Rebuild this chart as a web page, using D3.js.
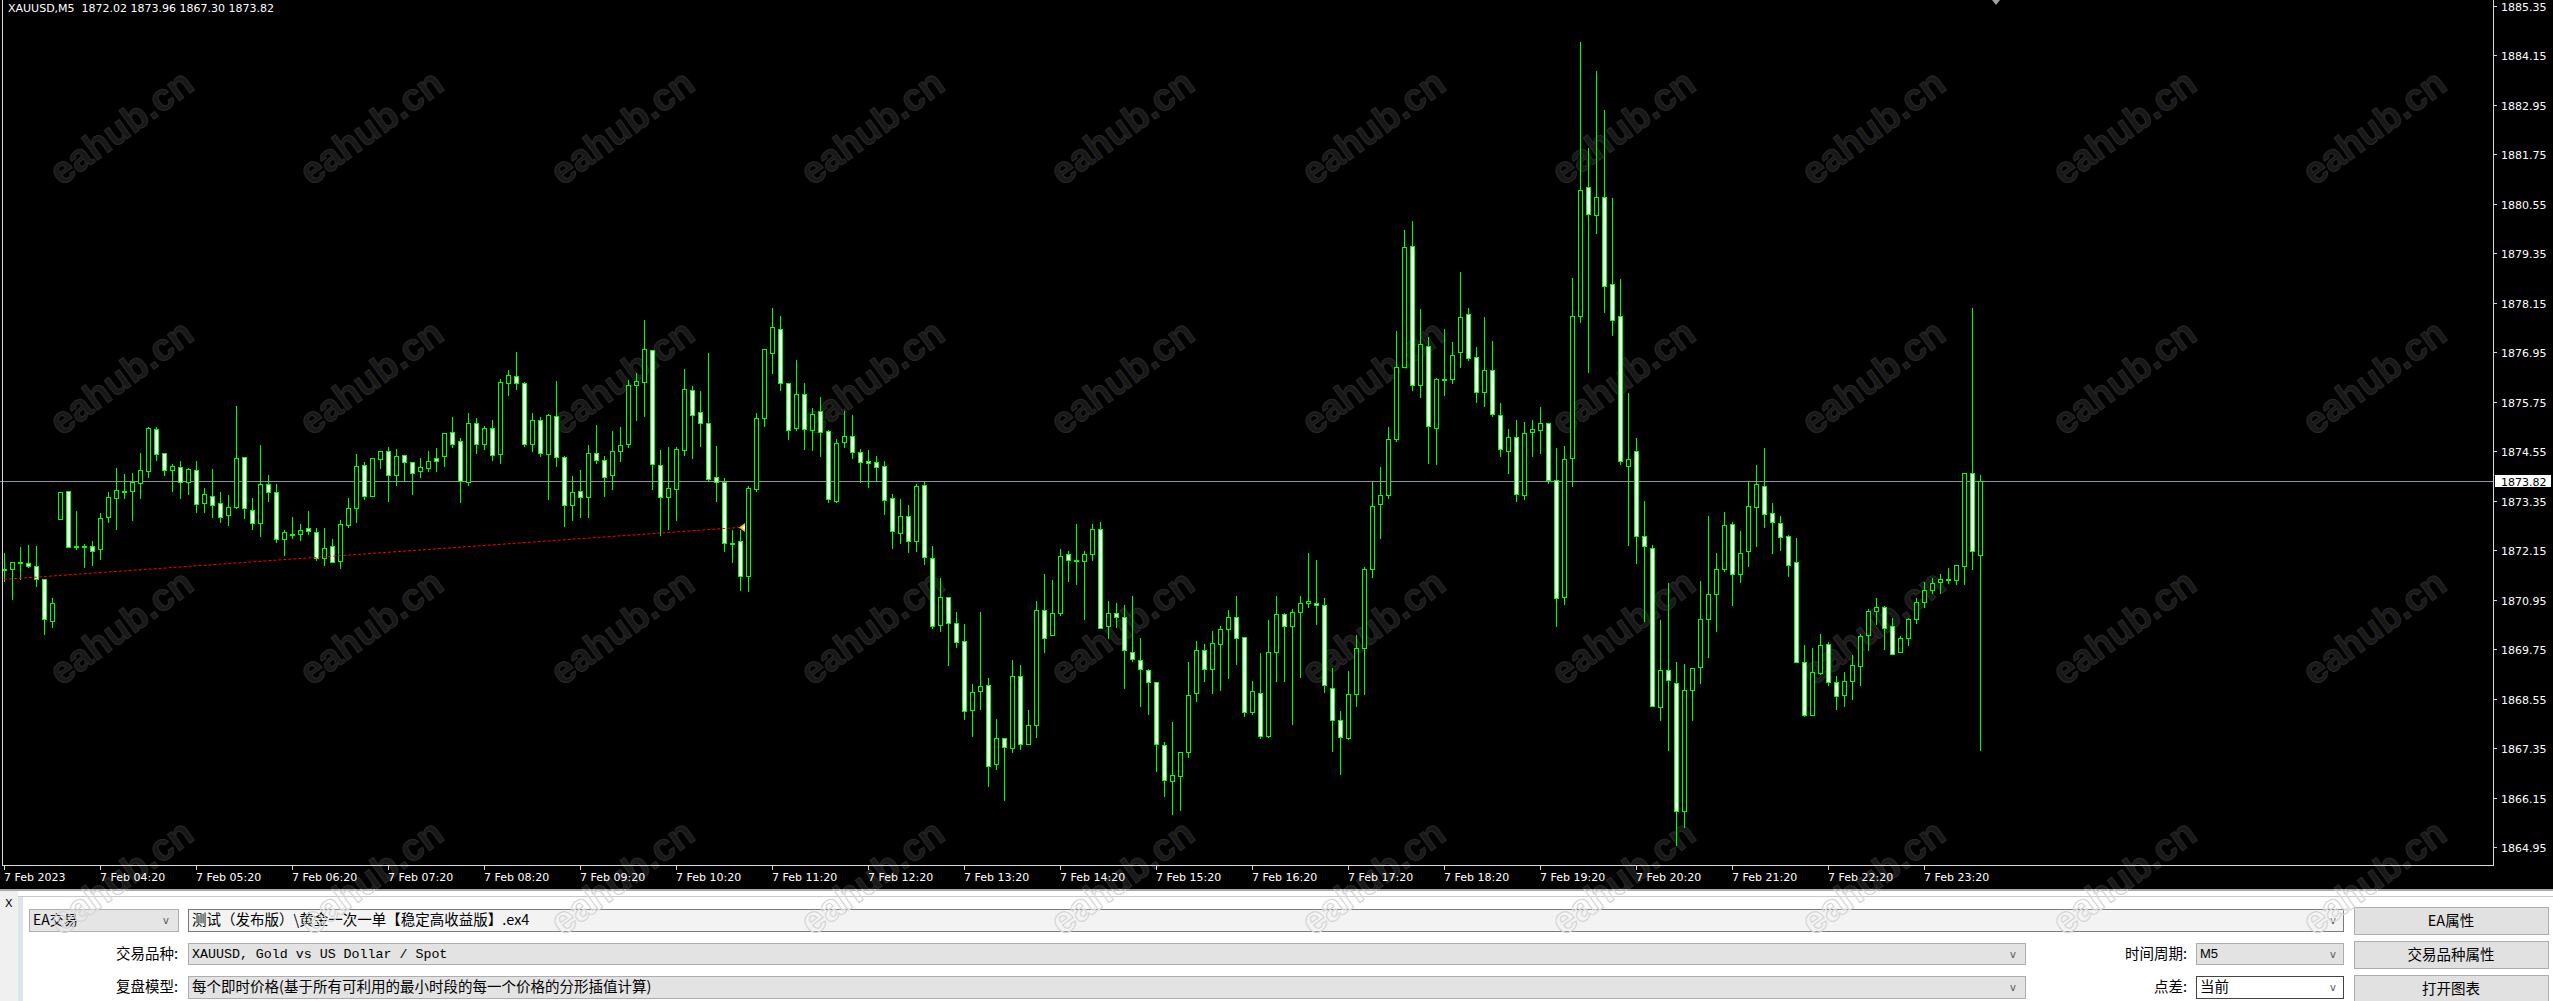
<!DOCTYPE html>
<html><head><meta charset="utf-8">
<script src="https://cdn.jsdelivr.net/npm/d3@7/dist/d3.min.js"></script>
<style>
html,body{margin:0;padding:0;overflow:hidden;background:#fff}
svg{display:block}
</style></head>
<body>
<svg id="chart" width="2553" height="1001"></svg>
<script>
const symbolTitle = "XAUUSD,M5";
const opens = [
1871.68,1871.69,1871.86,1871.83,1871.76,1871.44,1870.42,1872.90,1873.58,1872.24,
1872.24,1872.26,1872.17,1872.95,1873.42,1873.58,1873.58,1873.77,1874.06,1875.08,
1874.50,1874.08,1874.17,1873.79,1874.08,1873.29,1873.47,1873.28,1872.99,1873.20,
1874.40,1873.12,1872.80,1873.75,1873.56,1872.43,1872.55,1872.54,1872.68,1872.60,
1871.96,1872.26,1871.88,1872.76,1873.16,1874.21,1873.45,1874.35,1874.55,1873.98,
1874.45,1874.28,1874.06,1874.15,1874.39,1874.42,1875.01,1874.79,1873.81,1875.23,
1874.71,1875.11,1874.49,1876.21,1876.37,1876.20,1874.72,1875.30,1874.49,1875.40,
1874.40,1873.25,1873.58,1873.43,1874.51,1874.33,1873.96,1874.55,1874.71,1876.15,
1876.22,1877.00,1874.21,1873.43,1873.64,1874.57,1876.03,1875.49,1875.23,1873.92,
1873.81,1872.33,1872.36,1871.52,1873.62,1875.35,1876.92,1877.50,1876.19,1875.10,
1875.93,1875.05,1875.51,1875.03,1873.35,1874.76,1874.91,1874.52,1874.30,1874.28,
1874.18,1873.41,1872.57,1872.97,1872.36,1873.74,1871.95,1870.33,1871.01,1870.38,
1869.94,1868.27,1868.73,1868.87,1866.96,1867.59,1867.35,1869.09,1867.44,1867.90,
1870.70,1870.09,1870.62,1872.05,1871.90,1871.88,1872.05,1872.66,1870.31,1870.62,
1870.53,1869.68,1869.48,1869.24,1868.95,1867.42,1866.55,1866.67,1867.25,1868.68,
1869.73,1869.27,1869.87,1870.24,1870.53,1870.04,1868.22,1868.68,1867.64,1869.68,
1870.60,1870.31,1870.64,1870.87,1870.87,1870.81,1868.80,1868.02,1867.59,1868.65,
1869.77,1871.69,1873.26,1873.48,1874.84,1876.60,1879.52,1876.16,1877.09,1875.11,
1876.30,1876.31,1876.95,1877.87,1876.83,1875.98,1876.51,1875.42,1874.56,1874.88,
1873.48,1875.01,1875.07,1875.23,1873.84,1871.01,1874.39,1877.82,1880.96,1880.27,
1880.71,1878.61,1877.82,1874.20,1874.55,1872.48,1872.21,1868.34,1869.24,1868.92,
1865.82,1868.77,1869.31,1870.47,1871.08,1871.69,1872.78,1871.56,1872.12,1873.19,
1873.70,1873.05,1872.80,1872.48,1871.86,1869.43,1868.15,1869.16,1869.87,1868.95,
1868.63,1868.97,1869.33,1870.09,1870.67,1870.77,1870.31,1869.69,1870.01,1870.48,
1870.89,1871.18,1871.37,1871.44,1871.42,1871.77,1874.01,1872.02];
const highs = [
1872.07,1871.87,1872.23,1872.28,1872.25,1871.44,1870.98,1873.55,1873.58,1873.10,
1872.29,1872.37,1873.04,1873.56,1874.13,1874.00,1874.02,1874.50,1875.14,1875.14,
1874.50,1874.23,1874.31,1874.14,1874.31,1873.66,1874.12,1873.56,1873.49,1875.64,
1874.40,1873.41,1874.70,1873.98,1873.75,1872.64,1872.95,1872.78,1873.10,1872.68,
1872.68,1872.41,1872.89,1873.41,1874.49,1874.28,1874.38,1874.55,1874.65,1874.61,
1874.45,1874.28,1874.39,1874.56,1874.63,1874.99,1875.38,1874.86,1875.47,1875.36,
1875.15,1875.31,1876.29,1876.52,1876.96,1876.22,1875.47,1875.37,1875.44,1876.25,
1874.42,1873.95,1874.09,1874.70,1875.19,1874.43,1875.04,1875.14,1876.28,1876.45,
1877.73,1877.00,1874.58,1874.66,1874.66,1876.54,1876.13,1876.01,1876.93,1874.68,
1873.90,1872.64,1872.64,1873.71,1875.47,1877.02,1878.01,1877.82,1876.21,1876.76,
1876.19,1875.59,1875.85,1875.06,1874.84,1875.52,1875.43,1874.59,1874.58,1874.43,
1874.31,1873.51,1873.39,1873.24,1873.75,1873.79,1872.24,1871.47,1871.01,1870.65,
1870.36,1868.90,1870.65,1869.05,1868.06,1867.59,1869.49,1869.37,1868.27,1870.92,
1871.58,1871.43,1872.17,1872.12,1872.79,1872.12,1872.79,1872.84,1870.92,1870.87,
1870.83,1871.04,1870.03,1869.27,1868.95,1867.50,1867.99,1867.25,1869.44,1869.95,
1869.88,1870.20,1870.32,1870.70,1871.04,1870.04,1868.97,1869.66,1870.46,1871.04,
1870.62,1870.72,1871.03,1872.08,1871.91,1871.00,1869.30,1868.25,1869.22,1870.09,
1871.74,1873.81,1874.17,1875.13,1877.47,1879.91,1880.13,1877.99,1877.31,1876.32,
1877.51,1877.20,1878.89,1878.01,1877.08,1877.80,1877.22,1875.72,1875.09,1875.30,
1875.26,1875.30,1875.63,1875.23,1874.62,1874.68,1878.74,1884.47,1881.90,1883.77,
1882.82,1880.69,1878.73,1875.96,1874.87,1873.34,1872.28,1870.46,1871.35,1869.43,
1869.39,1869.30,1871.40,1872.98,1872.08,1873.07,1872.84,1872.62,1873.82,1874.21,
1874.62,1873.28,1872.98,1872.51,1872.44,1869.85,1869.78,1870.12,1869.93,1869.10,
1869.20,1869.61,1870.12,1870.73,1870.99,1870.80,1870.51,1870.07,1870.51,1870.98,
1871.37,1871.48,1871.57,1871.72,1871.78,1874.01,1878.01,1873.96];
const lows = [
1871.39,1870.97,1871.45,1871.73,1871.29,1870.12,1870.29,1872.90,1872.22,1872.18,
1871.73,1871.79,1871.94,1872.84,1872.65,1873.42,1872.87,1873.42,1873.93,1874.34,
1873.98,1873.59,1873.42,1873.50,1873.08,1873.08,1872.96,1872.84,1872.76,1873.18,
1872.94,1872.67,1872.48,1873.35,1872.34,1872.04,1872.45,1872.40,1872.54,1871.90,
1871.79,1871.86,1871.71,1872.72,1872.82,1873.40,1873.45,1874.15,1873.33,1873.73,
1873.82,1873.52,1873.93,1874.07,1874.07,1874.19,1874.64,1873.31,1873.73,1874.51,
1874.61,1874.34,1874.27,1875.92,1876.06,1874.68,1874.56,1874.42,1873.39,1874.18,
1872.74,1872.87,1872.96,1872.96,1874.27,1873.45,1873.63,1874.31,1874.64,1875.31,
1875.40,1873.63,1872.52,1872.66,1872.87,1874.46,1874.39,1874.68,1873.83,1873.35,
1872.14,1871.85,1871.19,1871.17,1873.59,1875.15,1876.45,1876.03,1874.85,1875.05,
1874.61,1874.58,1874.44,1873.32,1873.32,1874.66,1874.39,1873.79,1873.69,1873.83,
1873.03,1872.21,1872.33,1872.11,1872.14,1871.81,1870.25,1870.20,1869.37,1869.79,
1868.06,1867.65,1868.31,1866.44,1866.85,1866.08,1867.26,1867.34,1867.44,1867.63,
1869.69,1870.09,1870.57,1871.39,1871.32,1870.48,1871.90,1870.26,1870.01,1870.28,
1868.80,1869.47,1868.36,1868.17,1866.79,1866.20,1865.75,1865.86,1867.13,1868.48,
1868.97,1868.68,1868.77,1869.06,1869.38,1868.12,1868.17,1867.59,1867.61,1868.98,
1868.97,1867.94,1869.07,1870.76,1870.35,1868.71,1867.28,1866.72,1867.57,1868.38,
1868.67,1871.49,1872.44,1873.41,1874.79,1876.60,1876.04,1875.87,1874.25,1874.23,
1875.90,1876.19,1876.58,1876.77,1875.75,1875.65,1875.39,1874.42,1874.03,1873.35,
1873.38,1874.42,1874.50,1873.78,1870.30,1870.84,1873.70,1877.67,1876.46,1879.83,
1877.93,1877.36,1874.24,1872.28,1871.83,1870.42,1868.38,1868.02,1867.30,1865.00,
1865.43,1868.03,1868.92,1869.56,1870.19,1871.64,1870.81,1871.37,1871.76,1872.24,
1872.70,1872.07,1872.15,1871.52,1869.43,1868.12,1868.15,1869.14,1868.87,1868.29,
1868.36,1868.55,1868.87,1869.72,1870.35,1869.76,1869.63,1869.67,1869.86,1870.39,
1870.77,1871.10,1871.12,1871.36,1871.32,1871.32,1871.70,1867.30];
const closes = [
1871.66,1871.87,1871.87,1871.76,1871.44,1870.47,1870.86,1873.55,1872.22,1872.24,
1872.25,1872.13,1872.92,1873.43,1873.60,1873.59,1873.79,1874.09,1875.10,1874.47,
1874.09,1874.18,1873.79,1874.11,1873.26,1873.50,1873.25,1872.95,1873.20,1874.38,
1873.16,1872.80,1873.75,1873.56,1872.42,1872.59,1872.55,1872.63,1872.61,1871.96,
1872.20,1871.86,1872.78,1873.17,1874.19,1873.46,1874.38,1874.55,1873.97,1874.43,
1874.28,1874.03,1874.16,1874.31,1874.32,1874.99,1874.71,1873.82,1875.23,1874.72,
1875.12,1874.45,1876.22,1876.39,1876.21,1874.72,1875.30,1874.50,1875.42,1874.40,
1873.24,1873.55,1873.43,1874.50,1874.33,1873.92,1874.55,1874.69,1876.15,1876.24,
1877.02,1874.23,1873.43,1873.65,1874.60,1876.05,1875.42,1875.22,1873.88,1873.80,
1872.32,1872.33,1871.52,1873.65,1875.35,1877.02,1877.55,1876.19,1875.05,1875.93,
1875.08,1875.44,1875.01,1873.38,1874.74,1874.91,1874.52,1874.28,1874.25,1874.16,
1873.36,1872.61,1872.97,1872.36,1873.70,1871.98,1870.30,1871.01,1870.38,1869.91,
1868.24,1868.70,1868.85,1866.91,1867.59,1867.37,1869.09,1867.44,1867.90,1870.70,
1870.03,1870.62,1872.00,1871.91,1871.90,1872.05,1872.66,1870.26,1870.62,1870.53,
1869.73,1869.51,1869.27,1868.95,1867.45,1866.58,1866.70,1867.25,1868.64,1869.73,
1869.27,1869.90,1870.24,1870.53,1870.03,1868.22,1868.73,1867.65,1869.68,1870.60,
1870.32,1870.64,1870.87,1870.91,1870.81,1868.87,1868.03,1867.62,1868.65,1869.77,
1871.69,1873.23,1873.48,1874.84,1876.60,1879.49,1876.16,1877.14,1875.15,1876.29,
1876.31,1876.87,1877.80,1876.80,1875.98,1876.51,1875.44,1874.60,1874.88,1873.50,
1874.98,1875.08,1875.23,1873.85,1870.99,1874.37,1877.82,1880.87,1880.30,1880.71,
1878.56,1877.73,1874.30,1874.37,1872.48,1872.24,1868.38,1869.24,1869.01,1865.82,
1868.75,1869.29,1870.47,1871.08,1871.69,1872.75,1871.57,1872.07,1873.21,1873.75,
1873.03,1872.83,1872.47,1871.80,1869.43,1868.15,1869.19,1869.84,1868.95,1868.61,
1868.98,1869.36,1870.06,1870.68,1870.77,1870.26,1869.63,1870.01,1870.48,1870.90,
1871.19,1871.36,1871.45,1871.44,1871.78,1874.01,1872.12,1873.82];

const timeLabels = ["7 Feb 2023","7 Feb 04:20","7 Feb 05:20","7 Feb 06:20","7 Feb 07:20","7 Feb 08:20",
"7 Feb 09:20","7 Feb 10:20","7 Feb 11:20","7 Feb 12:20","7 Feb 13:20","7 Feb 14:20","7 Feb 15:20",
"7 Feb 16:20","7 Feb 17:20","7 Feb 18:20","7 Feb 19:20","7 Feb 20:20","7 Feb 21:20","7 Feb 22:20","7 Feb 23:20"];
const timeLabelIndex = [0,12,24,36,48,60,72,84,96,108,120,132,144,156,168,180,192,204,216,228,240];
const priceTicks = [1885.35,1884.15,1882.95,1881.75,1880.55,1879.35,1878.15,1876.95,1875.75,
1874.55,1873.35,1872.15,1870.95,1869.75,1868.55,1867.35,1866.15,1864.95];
const currentPrice = 1873.82;
const tradeIndex = [0, 92];
const tradePrice = [1871.44, 1872.70];
const shiftIndex = 249;

const eaLabel = "EA交易";
const eaFile = "测试（发布版）\\黄金一次一单【稳定高收益版】.ex4";
const symbolLabel = "交易品种:";
const symbolText = "XAUUSD, Gold vs US Dollar / Spot";
const modelLabel = "复盘模型:";
const modelText = "每个即时价格(基于所有可利用的最小时段的每一个价格的分形插值计算)";
const periodLabel = "时间周期:";
const periodText = "M5";
const spreadLabel = "点差:";
const spreadText = "当前";
const buttons = ["EA属性","交易品种属性","打开图表"];
const watermarkText = "eahub.cn";

const W = 2553, H = 1001;
const plotLeft = 2, plotRight = 2493, plotBottom = 865, blackBottom = 889;
const svg = d3.select("#chart");
const n = opens.length;
const x = d3.scaleLinear().domain([0, n - 1]).range([4, 4 + 8 * (n - 1)]);
const y = d3.scaleLinear().domain([1885.35, 1864.95]).range([5.6, 847.1]);
const py = v => Math.round(y(v));
const AX = "DejaVu Sans, Verdana, sans-serif";
const CJK = "'Noto Sans CJK SC', 'Noto Sans', sans-serif";

const defs = svg.append("defs");
defs.append("clipPath").attr("id","clipTop").append("rect").attr("x",0).attr("y",0).attr("width",W).attr("height",blackBottom);
defs.append("clipPath").attr("id","clipBot").append("rect").attr("x",0).attr("y",blackBottom).attr("width",W).attr("height",H-blackBottom);
defs.append("clipPath").attr("id","clipPlot").append("rect").attr("x",plotLeft+1).attr("y",0).attr("width",plotRight-plotLeft-1).attr("height",plotBottom);

svg.append("rect").attr("x",0).attr("y",0).attr("width",W).attr("height",blackBottom).attr("fill","#000");

const wmRows = [127, 377, 627, 877];
const wmCols = [121, 371, 622, 872, 1122, 1373, 1623, 1873, 2124, 2374];
function drawWatermark(g, fill, stroke){
  wmRows.forEach(r => wmCols.forEach(c => {
    g.append("text").attr("transform",`translate(${c},${r}) rotate(-36)`)
      .attr("text-anchor","middle").attr("dominant-baseline","central")
      .attr("font-family","Liberation Sans, Arial, sans-serif").attr("font-weight","bold")
      .attr("font-size",38).attr("fill",fill).attr("stroke",stroke).attr("stroke-width",1.2)
      .text(watermarkText);
  }));
}
drawWatermark(svg.append("g").attr("clip-path","url(#clipTop)"), "#181818", "#262626");

// current price line (behind candles)
const cpY = py(currentPrice) + 0.5;
svg.append("line").attr("x1",0).attr("x2",plotRight).attr("y1",cpY).attr("y2",cpY)
  .attr("stroke","#8a96a4").attr("stroke-width",1).attr("shape-rendering","crispEdges");

const data = opens.map((o,i)=>({i, o, h:highs[i], l:lows[i], c:closes[i]}));
const cg = svg.append("g").attr("clip-path","url(#clipPlot)").attr("shape-rendering","crispEdges");
cg.selectAll("line.wick").data(data).join("line").attr("class","wick")
  .attr("x1",d=>x(d.i)+0.5).attr("x2",d=>x(d.i)+0.5)
  .attr("y1",d=>py(d.h)).attr("y2",d=>py(d.l)+1)
  .attr("stroke","#00ff00").attr("stroke-width",1);
cg.selectAll("rect.body").data(data).join("rect").attr("class","body")
  .attr("x",d=>x(d.i)-1.5)
  .attr("y",d=>py(Math.max(d.o,d.c))+0.5)
  .attr("width",4)
  .attr("height",d=>Math.max(py(Math.min(d.o,d.c))-py(Math.max(d.o,d.c)),1))
  .attr("fill",d=>d.c < d.o ? "#ffffff" : "#000000")
  .attr("stroke","#00ff00").attr("stroke-width",1);

// trade line
const tl = d3.line().x(d=>x(d[0])).y(d=>y(d[1]));
svg.append("path").attr("d", tl(tradeIndex.map((t,k)=>[t, tradePrice[k]])))
  .attr("fill","none").attr("stroke","#ff0000").attr("stroke-width",1).attr("stroke-dasharray","3,2");
const ax = x(tradeIndex[1]), ay = y(tradePrice[1]);
svg.append("path").attr("d",`M${ax-1},${ay} L${ax+5},${ay-4.5} L${ax+5},${ay+4.5} Z`).attr("fill","#ffc800");
svg.append("path").attr("d",`M${ax+2},${ay} L${ax+5},${ay-2} L${ax+5},${ay+2} Z`).attr("fill","#ffffff");

// chart shift marker
const sx = x(shiftIndex);
svg.append("path").attr("d",`M${sx-4},0 L${sx+4},0 L${sx},5 Z`).attr("fill","#a0a0a0");

// borders
const bg = svg.append("g").attr("shape-rendering","crispEdges").attr("stroke","#d8d8d8").attr("stroke-width",1);
bg.append("line").attr("x1",plotLeft+0.5).attr("x2",plotLeft+0.5).attr("y1",0).attr("y2",plotBottom+1);
bg.append("line").attr("x1",plotLeft).attr("x2",plotRight+1).attr("y1",plotBottom+0.5).attr("y2",plotBottom+0.5);
bg.append("line").attr("x1",plotRight+0.5).attr("x2",plotRight+0.5).attr("y1",0).attr("y2",plotBottom+1);

// price axis
const pa = svg.append("g");
priceTicks.forEach(p => {
  const yy = py(p) + 0.5;
  pa.append("line").attr("x1",plotRight).attr("x2",plotRight+4).attr("y1",yy).attr("y2",yy)
    .attr("stroke","#d8d8d8").attr("shape-rendering","crispEdges");
  pa.append("text").attr("x",2501).attr("y",py(p)+4.5).attr("font-family",AX).attr("font-size",11)
    .attr("fill","#ffffff").text(p.toFixed(2));
});
pa.append("rect").attr("x",2495).attr("y",Math.round(y(currentPrice))-6).attr("width",56).attr("height",12).attr("fill","#ffffff");
pa.append("text").attr("x",2501).attr("y",py(currentPrice)+4.5).attr("font-family",AX).attr("font-size",11)
  .attr("fill","#000").text(currentPrice.toFixed(2));

// time axis
const ta = svg.append("g");
timeLabels.forEach((t,k) => {
  const xx = x(timeLabelIndex[k]) + 0.5;
  ta.append("line").attr("x1",xx).attr("x2",xx).attr("y1",plotBottom).attr("y2",plotBottom+5)
    .attr("stroke","#d8d8d8").attr("shape-rendering","crispEdges");
  ta.append("text").attr("x",x(timeLabelIndex[k])).attr("y",881).attr("font-family",AX).attr("font-size",11)
    .attr("fill","#ffffff").text(t);
});

// header
svg.append("text").attr("x",8).attr("y",12).attr("font-family",AX).attr("font-size",11).attr("fill","#ffffff")
  .attr("xml:space","preserve")
  .text(`${symbolTitle}  ${opens[n-1].toFixed(2)} ${highs[n-1].toFixed(2)} ${lows[n-1].toFixed(2)} ${closes[n-1].toFixed(2)}`);

// bottom panel
const pn = svg.append("g");
pn.append("rect").attr("x",0).attr("y",blackBottom).attr("width",W).attr("height",H-blackBottom).attr("fill","#ffffff");
pn.append("rect").attr("x",0).attr("y",blackBottom).attr("width",W).attr("height",2).attr("fill","#a8a8a8");
pn.append("rect").attr("x",0).attr("y",blackBottom+2).attr("width",18).attr("height",H-blackBottom-2).attr("fill","#f0f0f0");
pn.append("text").attr("x",5).attr("y",907).attr("font-family","DejaVu Sans, sans-serif").attr("font-size",11).attr("fill","#000").text("X");
pn.append("rect").attr("x",18).attr("y",896).attr("width",W-18).attr("height",1).attr("fill","#c8c8c8");
pn.append("rect").attr("x",18).attr("y",897).attr("width",5).attr("height",H-897).attr("fill","#dce4ee");

function box(x0,y0,w,h,fill,stroke){
  pn.append("rect").attr("x",x0+0.5).attr("y",y0+0.5).attr("width",w).attr("height",h)
    .attr("fill",fill).attr("stroke",stroke).attr("shape-rendering","crispEdges");
}
function txt(t,x0,y0,opts={}){
  pn.append("text").attr("x",x0).attr("y",y0).attr("font-family",opts.font||CJK)
    .attr("font-size",opts.size||14).attr("fill",opts.fill||"#000")
    .attr("text-anchor",opts.anchor||"start").text(t);
}
function arrow(x0,y0){ txt("v",x0,y0,{font:"DejaVu Sans, sans-serif",size:10,fill:"#555"}); }

box(29,909,149,22,"#e5e5e5","#adadad"); txt(eaLabel,33,925); arrow(163,924);
box(188,909,2155,22,"#f3f3f3","#7a7a7a"); txt(eaFile,192,925,{size:14.5}); arrow(2330,924);
txt(symbolLabel,178,959,{anchor:"end",size:14.5});
box(188,943,1837,21,"#e3e3e3","#adadad"); txt(symbolText,192,958,{font:"Liberation Mono, monospace",size:13.3}); arrow(2010,958);
txt(modelLabel,178,992,{anchor:"end",size:14.5});
box(188,976,1837,22,"#e3e3e3","#adadad"); txt(modelText,192,992,{size:14.5}); arrow(2010,991);
txt(periodLabel,2187,959,{anchor:"end",size:14.5});
box(2196,943,147,21,"#e3e3e3","#adadad"); txt(periodText,2200,958,{font:"Liberation Sans, sans-serif",size:13}); arrow(2330,958);
txt(spreadLabel,2187,992,{anchor:"end",size:14.5});
box(2196,976,147,22,"#ffffff","#444444"); txt(spreadText,2200,992,{size:14.5}); arrow(2330,991);
const btnY = [907, 941, 975];
buttons.forEach((b,k)=>{
  box(2354,btnY[k],194,27,"#e1e1e1","#adadad");
  txt(b,2451,btnY[k]+19,{anchor:"middle",size:14.5});
});

drawWatermark(svg.append("g").attr("clip-path","url(#clipBot)"), "rgba(255,255,255,0.15)", "#d6d6d6");
</script>
</body></html>
